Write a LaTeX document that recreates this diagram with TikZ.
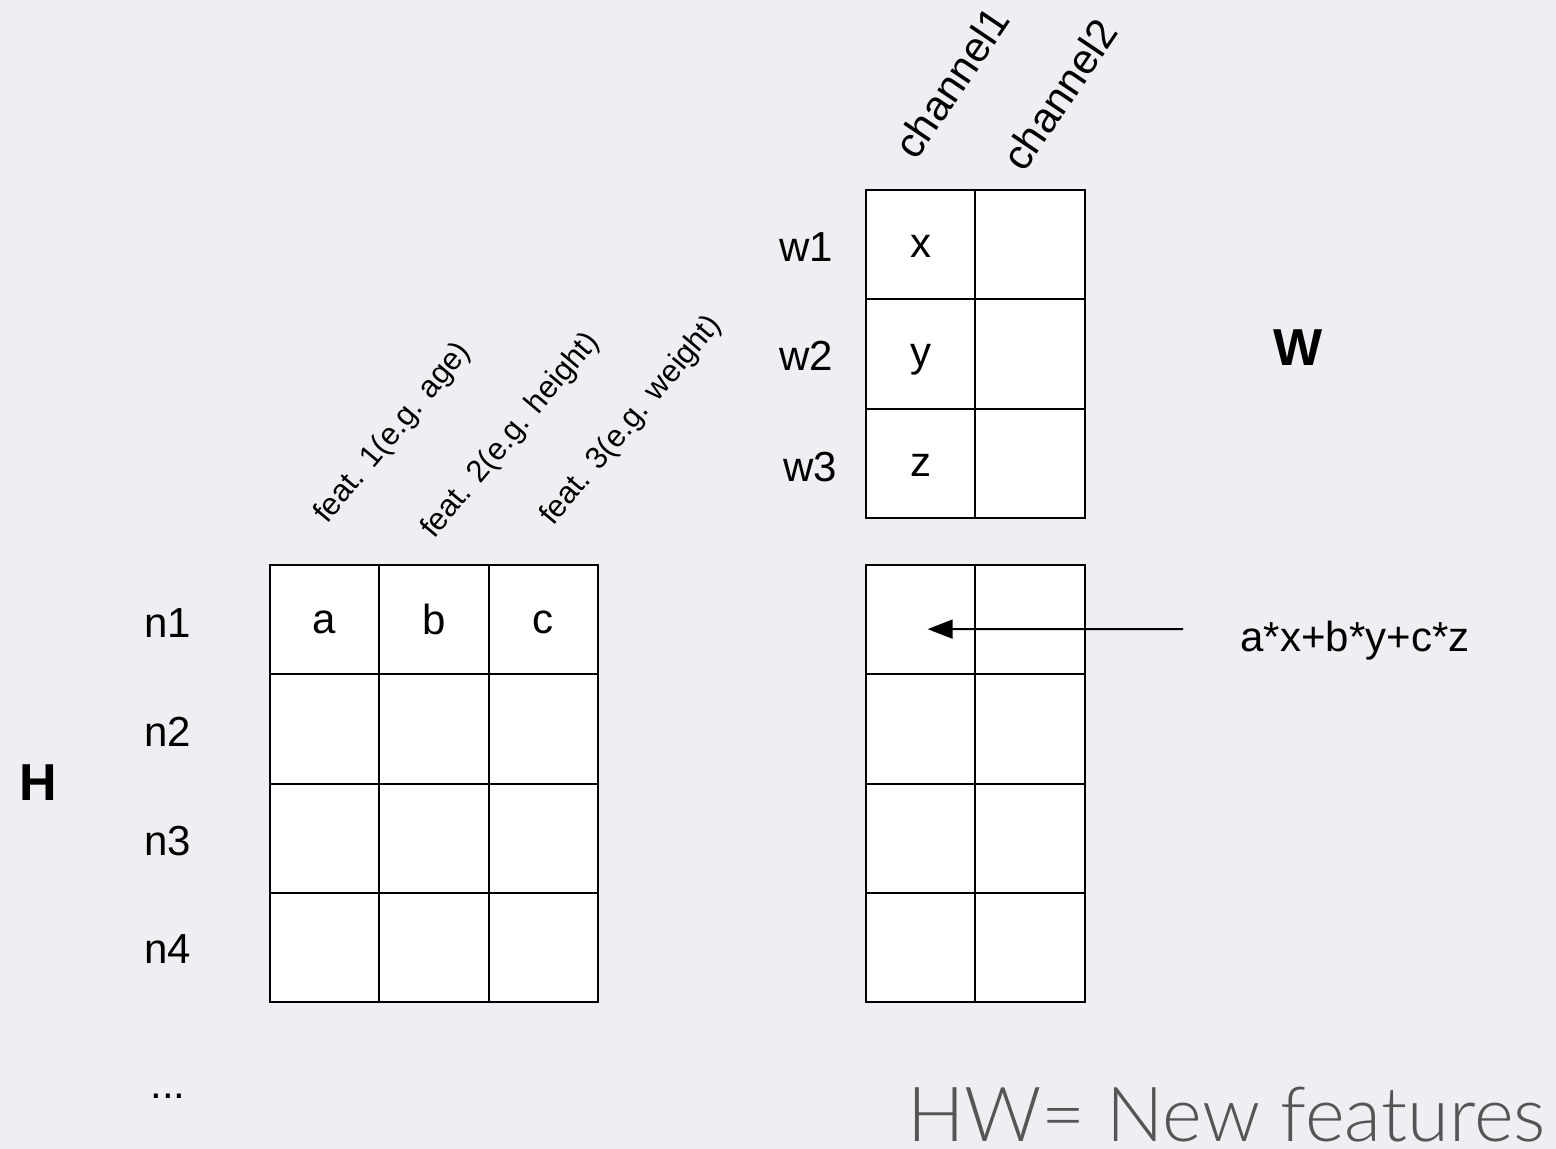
\documentclass[tikz,border=0pt]{standalone}
\usepackage{fontspec}
\setmainfont{Liberation Sans}
\newfontfamily\lightfont{Lato Light}
\usetikzlibrary{calc,arrows.meta}
\definecolor{bgcol}{RGB}{238,239,242}
\definecolor{titlegray}{RGB}{85,85,85}
\begin{document}
\begin{tikzpicture}[x=0.5pt,y=-0.5pt,
  cell/.style={draw=black,line width=1pt,fill=white,minimum width=54.65pt,minimum height=54.65pt,inner sep=0pt},
  lbl/.style={inner sep=0pt,anchor=base,font=\fontsize{21}{24}\selectfont},
  collbl/.style={inner sep=0pt,anchor=base west,font=\fontsize{15.5}{18}\selectfont},
  chlbl/.style={inner sep=0pt,anchor=base west,font=\fontsize{21}{24}\selectfont},
  bigbold/.style={inner sep=0pt,anchor=base,font=\fontsize{26}{30}\selectfont\bfseries},
  ptr/.style={line width=1pt,-{Triangle[length=12.5pt,width=9.5pt]}}]
% background
\fill[bgcol] (0,0) rectangle (1556,1149);
\useasboundingbox (0,0) rectangle (1556,1149);

% H matrix (4 x 3)
\foreach \r in {1,...,4}{
  \foreach \c in {1,...,3}{
    \node[cell] (h-\r-\c) at ({270+109.3*(\c-0.5)},{565+109.3*(\r-0.5)}) {};
  }
}
\node[lbl] at ($(h-1-1.center)+(0,14)$) {a};
\node[lbl] at ($(h-1-2.center)+(0,15)$) {b};
\node[lbl] at ($(h-1-3.center)+(0,14)$) {c};

% result matrix HW (4 x 2)
\foreach \r in {1,...,4}{
  \foreach \c in {1,2}{
    \node[cell] (r-\r-\c) at ({866+109.3*(\c-0.5)},{565+109.3*(\r-0.5)}) {};
  }
}

% W matrix (3 x 2)
\foreach \r in {1,...,3}{
  \foreach \c in {1,2}{
    \node[cell] (w-\r-\c) at ({866+109.3*(\c-0.5)},{190+109.3*(\r-0.5)}) {};
  }
}
\node[lbl] at ($(w-1-1.center)+(0,13)$) {x};
\node[lbl] at ($(w-2-1.center)+(0,13)$) {y};
\node[lbl] at ($(w-3-1.center)+(0,13)$) {z};

% row labels
\node[lbl] (n1) at (168,637) {n1};
\node[lbl] (n2) at (168,746) {n2};
\node[lbl] (n3) at (168,855) {n3};
\node[lbl] (n4) at (168,963) {n4};
\node[lbl] (dots) at (168,1098) {...};
\node[lbl] (wl1) at (806,262) {w1};
\node[lbl] (wl2) at (806,371) {w2};
\node[lbl] (wl3) at (810,481) {w3};

% column labels
\node[collbl,rotate=50] (f1) at (327,525) {feat. 1(e.g. age)};
\node[collbl,rotate=50] (f2) at (434,540) {feat. 2(e.g. height)};
\node[collbl,rotate=50] (f3) at (553,527) {feat. 3(e.g. weight)};
\node[chlbl,rotate=56] (ch1) at (916,162) {channel1};
\node[chlbl,rotate=56] (ch2) at (1024,174) {channel2};

% matrix names
\node[bigbold] (Hname) at (38,800) {H};
\node[bigbold] (Wname) at (1298,366) {W};

% computed entry
\node[lbl] (expr) at (1355,651) {a*x+b*y+c*z};
\coordinate (from) at (1183,629);
\coordinate (tip) at ($(r-1-1.center)+(7,9.5)$);
\draw[ptr] (from) -- (tip);

% caption
\node[inner sep=0pt,anchor=base east,text depth=0pt,text=titlegray,font=\fontsize{38}{42}\lightfont] (cap) at (1546,1141) {HW= New features};
\end{tikzpicture}
\end{document}
